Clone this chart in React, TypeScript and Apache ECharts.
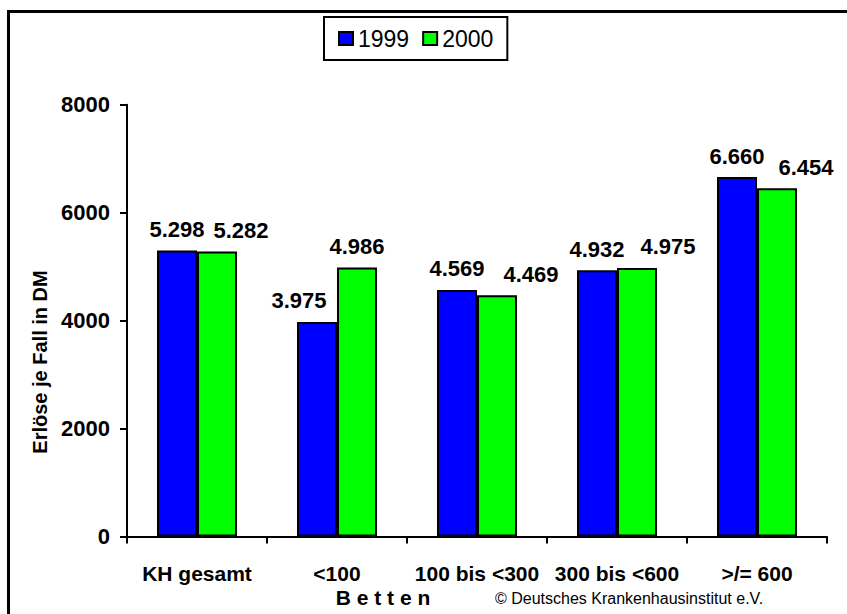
import React, { useEffect, useRef } from "react";
import * as echarts from "echarts";

const categories = ["KH gesamt", "<100", "100 bis <300", "300 bis <600", ">/= 600"];
const series1999 = [5298, 3975, 4569, 4932, 6660];
const series2000 = [5282, 4986, 4469, 4975, 6454];
const seriesNames = ["1999", "2000"];
const yMin = 0;
const yMax = 8000;
const yInterval = 2000;

// label nudges (style only)
const nudge1999 = [0, -18, 0, 0, 0];
const nudge2000 = [24, 0, 34, 31, 29];

const FONT = "'Liberation Sans', Arial, Helvetica, sans-serif";

const fmt = (v: number) => {
  const th = Math.floor(v / 1000);
  const rest = String(v % 1000).padStart(3, "0");
  return th > 0 ? `${th}.${rest}` : String(v);
};

export default function App() {
  const ref = useRef<HTMLDivElement>(null);
  useEffect(() => {
    if (!ref.current) return;
    const chart = echarts.init(ref.current, undefined, { renderer: "svg" });
    const mkData = (vals: number[], nudges: number[]) =>
      vals.map((v, i) => ({
        value: v,
        label: { offset: [nudges[i], 0] },
      }));
    const labelStyle = {
      show: true,
      position: "top" as const,
      distance: 10,
      color: "#000",
      fontFamily: FONT,
      fontWeight: "bold" as const,
      fontSize: 22,
      formatter: (p: any) => fmt(p.value),
    };
    chart.setOption({
      animation: false,
      backgroundColor: "#fff",
      legend: {
        data: seriesNames,
        left: 324,
        top: 17,
        padding: [10, 14],
        itemWidth: 14,
        itemHeight: 13,
        itemGap: 13,
        borderColor: "#000",
        borderWidth: 2,
        icon: "rect",
        textStyle: { fontFamily: FONT, fontSize: 23, color: "#000" },
      },
      grid: { left: 127, right: 20, top: 104.7, bottom: 77.5, containLabel: false },
      xAxis: {
        type: "category",
        data: categories,
        axisLine: { show: true, lineStyle: { color: "#000", width: 2 } },
        axisTick: { show: true, length: 7, lineStyle: { color: "#000", width: 2 } },
        axisLabel: {
          color: "#000",
          fontFamily: FONT,
          fontWeight: "bold",
          fontSize: 21,
          margin: 26,
          interval: 0,
        },
      },
      yAxis: {
        type: "value",
        min: yMin,
        max: yMax,
        interval: yInterval,
        splitLine: { show: false },
        axisLine: { show: true, lineStyle: { color: "#000", width: 2 } },
        axisTick: { show: true, length: 7, lineStyle: { color: "#000", width: 2 } },
        axisLabel: {
          color: "#000",
          fontFamily: FONT,
          fontWeight: "bold",
          fontSize: 22,
          margin: 17,
          formatter: (v: number) => String(v),
        },
      },
      series: [
        {
          name: seriesNames[0],
          type: "bar",
          data: mkData(series1999, nudge1999),
          barWidth: 40,
          barGap: "0%",
          itemStyle: { color: "#0000ff", borderColor: "#000", borderWidth: 2 },
          label: labelStyle,
        },
        {
          name: seriesNames[1],
          type: "bar",
          data: mkData(series2000, nudge2000),
          barWidth: 40,
          barGap: "0%",
          itemStyle: { color: "#00ff00", borderColor: "#000", borderWidth: 2 },
          label: labelStyle,
        },
      ],
      graphic: [
        {
          type: "rect",
          shape: { x: 8.5, y: 11.5, width: 900, height: 700 },
          style: { fill: "none", stroke: "#000", lineWidth: 3 },
          silent: true,
        },
        {
          type: "text",
          x: 40,
          y: 362,
          rotation: Math.PI / 2,
          style: {
            text: "Erlöse je Fall in DM",
            fontFamily: FONT,
            fontWeight: "bold",
            fontSize: 20,
            fill: "#000",
            align: "center",
            verticalAlign: "middle",
          },
        },
        {
          type: "text",
          x: 383,
          y: 597,
          style: {
            text: "B e t t e n",
            fontFamily: FONT,
            fontWeight: "bold",
            fontSize: 21,
            fill: "#000",
            align: "center",
            verticalAlign: "middle",
          },
        },
        {
          type: "text",
          x: 495,
          y: 598,
          style: {
            text: "© Deutsches Krankenhausinstitut e.V.",
            fontFamily: FONT,
            fontSize: 16,
            fill: "#000",
            align: "left",
            verticalAlign: "middle",
          },
        },
      ],
    });
    return () => chart.dispose();
  }, []);
  return (
    <div
      ref={ref}
      style={{ position: "fixed", left: 0, top: 0, width: 847, height: 614 }}
    />
  );
}
